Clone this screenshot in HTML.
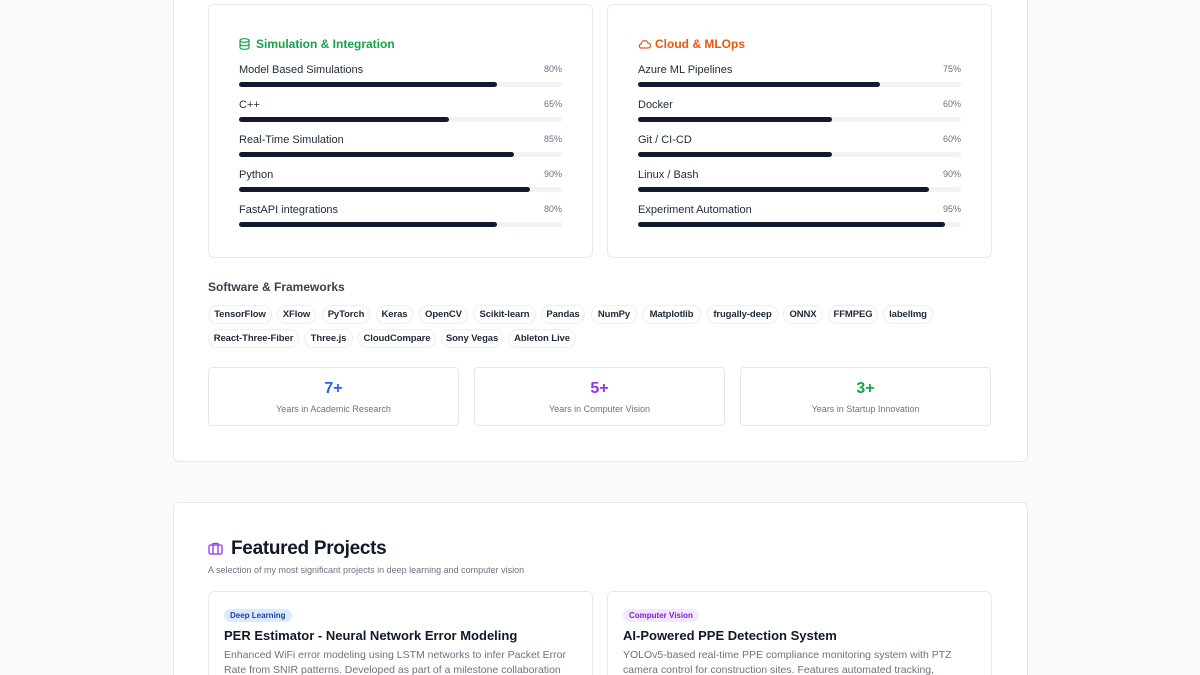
<!DOCTYPE html>
<html style="width:1200px;height:675px;overflow:hidden"><head><meta charset="utf-8"><style>
*{box-sizing:border-box;margin:0;padding:0}
body{width:1200px;height:675px;background:#f9fafb;font-family:"Liberation Sans",sans-serif;position:relative;overflow:hidden;color:#111827}
.abs{position:absolute}
.card{position:absolute;background:#fff;border:1px solid #e8e9ec;border-radius:6px}
.lbl{position:absolute;font-size:11px;color:#1f2937}
.pct{position:absolute;font-size:9px;color:#6b7280}
.track{position:absolute;height:5px;background:#f1f2f4;border-radius:3px;width:323px}
.fill{height:5px;background:#111a2e;border-radius:3px}
.chip{position:absolute;height:19px;border:1px solid #eceef1;border-radius:10px;font-size:9.5px;font-weight:bold;color:#1f2937;display:flex;align-items:center;justify-content:center;background:#fff;letter-spacing:-0.1px}
.stat{position:absolute;top:367px;height:59px;width:251px;background:#fff;border:1px solid #e5e7eb;border-radius:4px;text-align:center}
.stat b{display:block;font-size:16px;margin-top:12px}
.stat span{display:block;font-size:9px;color:#6b7280;margin-top:6px}
</style></head><body>
<div class="card" style="left:173px;top:-10px;width:855px;height:472px"></div>
<div class="card" style="left:173px;top:502px;width:855px;height:173px;border-bottom:none;border-radius:6px 6px 0 0"></div>

<div class="card" style="left:208px;top:4px;width:385px;height:254px"></div>
<div class="card" style="left:607px;top:4px;width:385px;height:254px"></div>

<svg class="abs" style="left:239px;top:38px" width="11" height="12" viewBox="0 0 11 12"><ellipse cx="5.5" cy="2.5" rx="4.5" ry="1.8" fill="none" stroke="#16a34a" stroke-width="1.2"/><path d="M1 2.5v7c0 1 2 1.8 4.5 1.8S10 10.5 10 9.5v-7M1 6c0 1 2 1.8 4.5 1.8S10 7 10 6" fill="none" stroke="#16a34a" stroke-width="1.2"/></svg>
<div class="abs" style="left:256px;top:37px;font-size:12px;font-weight:bold;color:#16a34a">Simulation &amp; Integration</div>
<svg class="abs" style="left:638px;top:39px" width="13" height="10" viewBox="0 0 13 10"><path d="M3.5 9h6.5a2.5 2.5 0 0 0 0-5 3.5 3.5 0 0 0-6.8 1A2 2 0 0 0 3.5 9z" fill="none" stroke="#ea580c" stroke-width="1.2"/></svg>
<div class="abs" style="left:655px;top:37px;font-size:12px;font-weight:bold;color:#ea580c">Cloud &amp; MLOps</div>

<div class="lbl" style="left:239px;top:64px">Model Based Simulations</div><div class="pct" style="left:544px;top:64px">80%</div><div class="track" style="left:239px;top:82px"><div class="fill" style="width:80%"></div></div>
<div class="lbl" style="left:239px;top:99px">C++</div><div class="pct" style="left:544px;top:99px">65%</div><div class="track" style="left:239px;top:117px"><div class="fill" style="width:65%"></div></div>
<div class="lbl" style="left:239px;top:134px">Real-Time Simulation</div><div class="pct" style="left:544px;top:134px">85%</div><div class="track" style="left:239px;top:152px"><div class="fill" style="width:85%"></div></div>
<div class="lbl" style="left:239px;top:169px">Python</div><div class="pct" style="left:544px;top:169px">90%</div><div class="track" style="left:239px;top:187px"><div class="fill" style="width:90%"></div></div>
<div class="lbl" style="left:239px;top:204px">FastAPI integrations</div><div class="pct" style="left:544px;top:204px">80%</div><div class="track" style="left:239px;top:222px"><div class="fill" style="width:80%"></div></div>

<div class="lbl" style="left:638px;top:64px">Azure ML Pipelines</div><div class="pct" style="left:943px;top:64px">75%</div><div class="track" style="left:638px;top:82px"><div class="fill" style="width:75%"></div></div>
<div class="lbl" style="left:638px;top:99px">Docker</div><div class="pct" style="left:943px;top:99px">60%</div><div class="track" style="left:638px;top:117px"><div class="fill" style="width:60%"></div></div>
<div class="lbl" style="left:638px;top:134px">Git / CI-CD</div><div class="pct" style="left:943px;top:134px">60%</div><div class="track" style="left:638px;top:152px"><div class="fill" style="width:60%"></div></div>
<div class="lbl" style="left:638px;top:169px">Linux / Bash</div><div class="pct" style="left:943px;top:169px">90%</div><div class="track" style="left:638px;top:187px"><div class="fill" style="width:90%"></div></div>
<div class="lbl" style="left:638px;top:204px">Experiment Automation</div><div class="pct" style="left:943px;top:204px">95%</div><div class="track" style="left:638px;top:222px"><div class="fill" style="width:95%"></div></div>

<div class="abs" style="left:208px;top:280px;font-size:12px;font-weight:bold;color:#374151">Software &amp; Frameworks</div>

<div class="chip" style="left:208px;top:305px;width:64px">TensorFlow</div>
<div class="chip" style="left:277px;top:305px;width:39px">XFlow</div>
<div class="chip" style="left:322px;top:305px;width:48px">PyTorch</div>
<div class="chip" style="left:376px;top:305px;width:37px">Keras</div>
<div class="chip" style="left:419px;top:305px;width:49px">OpenCV</div>
<div class="chip" style="left:473px;top:305px;width:63px">Scikit-learn</div>
<div class="chip" style="left:541px;top:305px;width:44px">Pandas</div>
<div class="chip" style="left:591px;top:305px;width:46px">NumPy</div>
<div class="chip" style="left:642px;top:305px;width:59px">Matplotlib</div>
<div class="chip" style="left:707px;top:305px;width:71px">frugally-deep</div>
<div class="chip" style="left:783px;top:305px;width:40px">ONNX</div>
<div class="chip" style="left:828px;top:305px;width:50px">FFMPEG</div>
<div class="chip" style="left:883px;top:305px;width:50px">labelImg</div>
<div class="chip" style="left:208px;top:329px;width:91px">React-Three-Fiber</div>
<div class="chip" style="left:304px;top:329px;width:49px">Three.js</div>
<div class="chip" style="left:358px;top:329px;width:78px">CloudCompare</div>
<div class="chip" style="left:441px;top:329px;width:62px">Sony Vegas</div>
<div class="chip" style="left:508px;top:329px;width:68px">Ableton Live</div>

<div class="stat" style="left:208px"><b style="color:#2563eb">7+</b><span>Years in Academic Research</span></div>
<div class="stat" style="left:474px"><b style="color:#9333ea">5+</b><span>Years in Computer Vision</span></div>
<div class="stat" style="left:740px"><b style="color:#16a34a">3+</b><span>Years in Startup Innovation</span></div>

<svg class="abs" style="left:208px;top:542px" width="15" height="13" viewBox="0 0 15 13"><rect x="1" y="3" width="13" height="9" rx="1.5" fill="none" stroke="#9333ea" stroke-width="1.3"/><path d="M5 3V1.5h5V3M5 3v9M10 3v9" fill="none" stroke="#9333ea" stroke-width="1.3"/></svg>
<div class="abs" style="left:231px;top:538px;font-size:19px;font-weight:bold;color:#111827;letter-spacing:-0.3px">Featured Projects</div>
<div class="abs" style="left:208px;top:565px;font-size:9px;color:#6b7280">A selection of my most significant projects in deep learning and computer vision</div>

<div class="card" style="left:208px;top:591px;width:385px;height:84px;border-bottom:none;border-radius:6px 6px 0 0"></div>
<div class="card" style="left:607px;top:591px;width:385px;height:84px;border-bottom:none;border-radius:6px 6px 0 0"></div>
<div class="abs" style="left:224px;top:609px;height:13px;padding:0 6px;border-radius:7px;background:#dbeafe;color:#1e40af;font-size:8px;font-weight:bold;line-height:13px">Deep Learning</div>
<div class="abs" style="left:224px;top:628px;font-size:13px;font-weight:bold;color:#111827">PER Estimator - Neural Network Error Modeling</div>
<div class="abs" style="left:224px;top:648px;width:350px;font-size:10.5px;line-height:15px;color:#6b7280">Enhanced WiFi error modeling using LSTM networks to infer Packet Error Rate from SNIR patterns. Developed as part of a milestone collaboration</div>
<div class="abs" style="left:623px;top:609px;height:13px;padding:0 6px;border-radius:7px;background:#f3e8ff;color:#7e22ce;font-size:8px;font-weight:bold;line-height:13px">Computer Vision</div>
<div class="abs" style="left:623px;top:628px;font-size:13px;font-weight:bold;color:#111827">AI-Powered PPE Detection System</div>
<div class="abs" style="left:623px;top:648px;width:350px;font-size:10.5px;line-height:15px;color:#6b7280">YOLOv5-based real-time PPE compliance monitoring system with PTZ camera control for construction sites. Features automated tracking,</div>
</body></html>
